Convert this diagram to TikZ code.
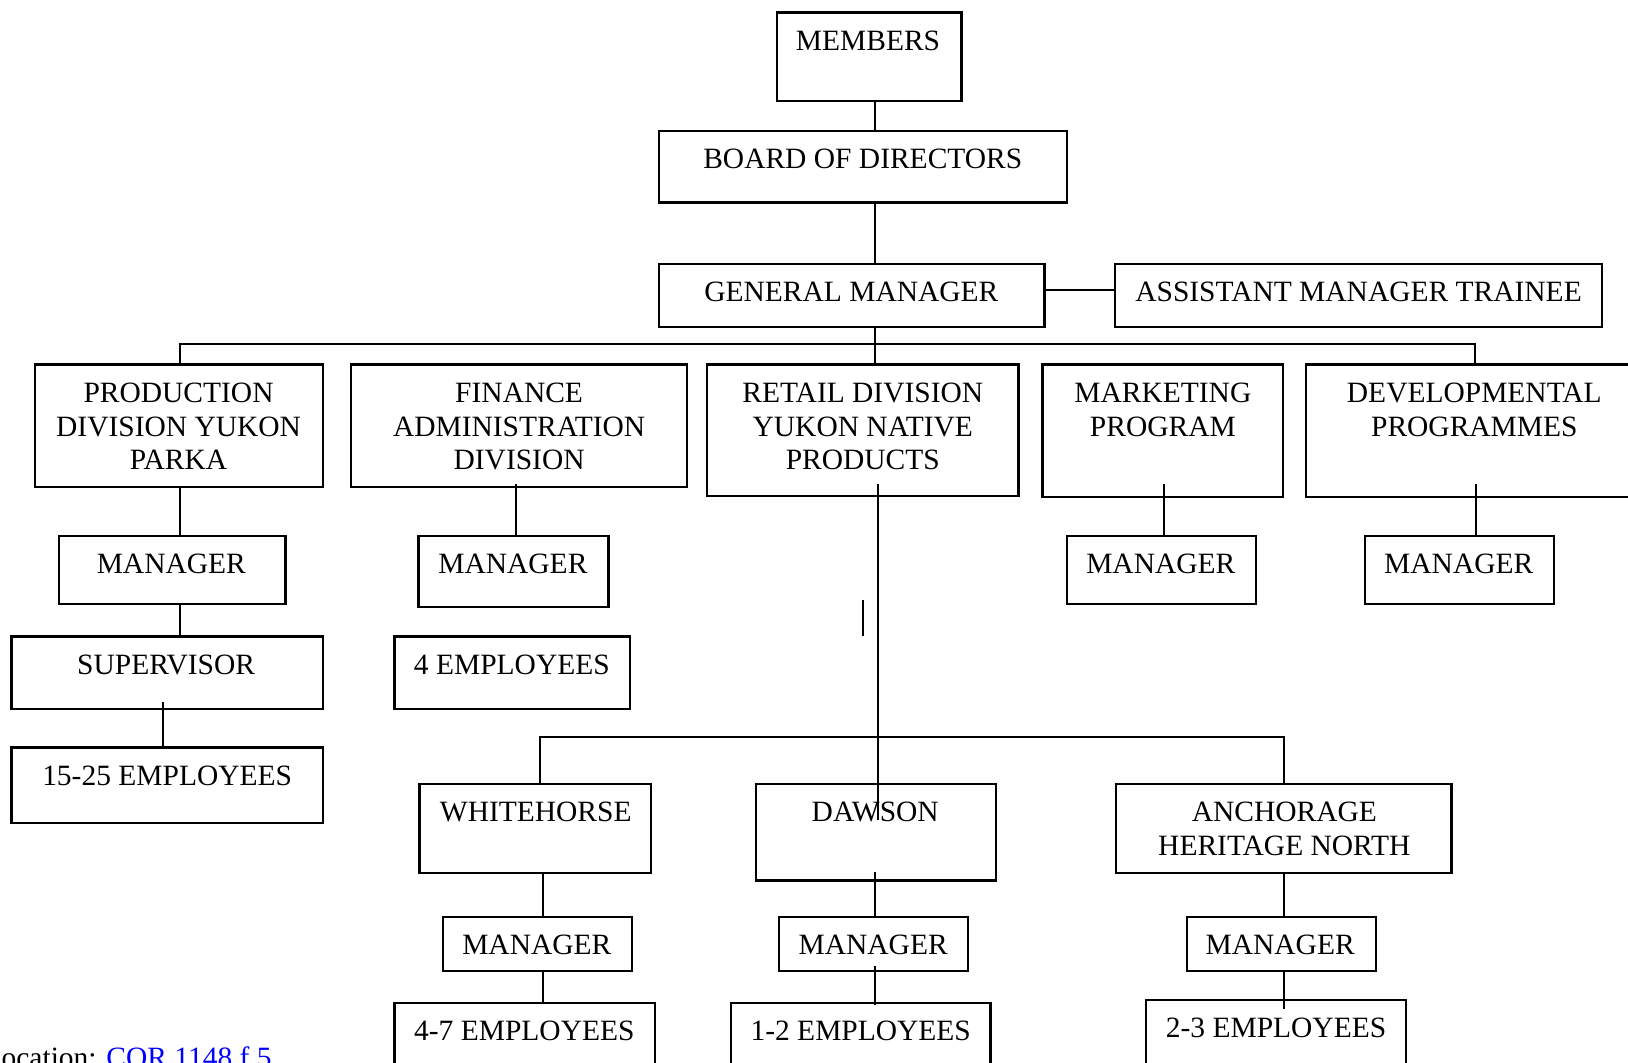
\documentclass[tikz,border=0pt]{standalone}
\usepackage{fontspec}
\setmainfont{Liberation Serif}
\usepackage{xcolor}
\tikzset{
  bx/.style={draw, line width=2.1pt, inner sep=0pt, outer sep=0pt},
  tx/.style={anchor=base, inner sep=0pt, font=\fontsize{28.4}{32.5}\selectfont},
  ln/.style={line width=1.9pt},
}
\newcommand\obox[5]{\node[bx, minimum width={(#4)-(#2)}, minimum height={(#5)-(#3)}] (#1) at ({((#2)+(#4))/2},{((#3)+(#5))/2}) {};}
\newcommand\otext[4]{\node[tx] (#1) at (#2,#3) {\begin{tabular}[t]{@{}c@{}}#4\end{tabular}};}
\begin{document}
\begin{tikzpicture}[x=1pt,y=-1pt]
\useasboundingbox (0,0) rectangle (1568,1023);
\clip (0,0) rectangle (1568,1023);
\fill[white] (0,0) rectangle (1568,1023);

% column / row coordinates
\foreach \xx in {157,173,497,520,523,843,846,1121,1237,1421,1422}{\coordinate (c\xx) at (\xx,0);}
\coordinate (r279) at (0,279);
\coordinate (bus) at (0,331);
\coordinate (bustwo) at (0,710);

% boxes
\obox{members}{748}{12}{926}{97}
\obox{board}{635}{126}{1028}{195}
\obox{gm}{635}{254}{1006}{315}
\obox{asst}{1074}{254}{1543}{315}
\obox{prod}{34}{351}{311}{469}
\obox{fin}{338}{351}{662}{469}
\obox{ret}{681}{351}{981}{478}
\obox{mkt}{1004}{351}{1236}{479}
\obox{dev}{1258}{351}{1590}{479}
\obox{pm}{57}{516}{275}{582}
\obox{sup}{11}{613}{311}{683}
\obox{empa}{11}{720}{311}{793}
\obox{fm}{403}{516}{586}{585}
\obox{empb}{380}{613}{607}{683}
\obox{mm}{1028}{516}{1210}{582}
\obox{dm}{1315}{516}{1497}{582}
\obox{wh}{404}{755}{627}{841}
\obox{daw}{728}{755}{959}{848}
\obox{anc}{1075}{755}{1398}{841}
\obox{whm}{427}{883}{609}{935}
\obox{dam}{750}{883}{932}{935}
\obox{anm}{1143}{883}{1325}{935}
\obox{whe}{380}{966}{631}{1045}
\obox{dae}{704}{966}{954}{1045}
\obox{ane}{1104}{963}{1354}{1045}

% texts
\otext{members-t}{836}{48.5}{MEMBERS}
\otext{board-t}{831}{162.5}{BOARD OF DIRECTORS}
\otext{gm-t}{820}{290.5}{GENERAL MANAGER}
\otext{asst-t}{1308.5}{290.5}{ASSISTANT MANAGER TRAINEE}
\otext{prod-t}{172}{387.5}{PRODUCTION\\DIVISION YUKON\\PARKA}
\otext{fin-t}{500}{387.5}{FINANCE\\ADMINISTRATION\\DIVISION}
\otext{ret-t}{831}{387.5}{RETAIL DIVISION\\YUKON NATIVE\\PRODUCTS}
\otext{mkt-t}{1120}{387.5}{MARKETING\\PROGRAM}
\otext{dev-t}{1420}{387.5}{DEVELOPMENTAL\\PROGRAMMES}
\otext{pm-t}{165}{552.5}{MANAGER}
\otext{fm-t}{494}{552.5}{MANAGER}
\otext{mm-t}{1118}{552.5}{MANAGER}
\otext{dm-t}{1405}{552.5}{MANAGER}
\otext{sup-t}{160}{649.5}{SUPERVISOR}
\otext{empb-t}{493}{649.5}{4 EMPLOYEES}
\otext{empa-t}{161}{756.5}{15-25 EMPLOYEES}
\otext{wh-t}{516}{791.5}{WHITEHORSE}
\otext{daw-t}{843}{791.5}{DAWSON}
\otext{anc-t}{1237}{791.5}{ANCHORAGE\\HERITAGE NORTH}
\otext{whm-t}{517}{919.5}{MANAGER}
\otext{dam-t}{841}{919.5}{MANAGER}
\otext{anm-t}{1233}{919.5}{MANAGER}
\otext{whe-t}{505}{1002.5}{4-7 EMPLOYEES}
\otext{dae-t}{829}{1002.5}{1-2 EMPLOYEES}
\otext{ane-t}{1229}{999.5}{2-3 EMPLOYEES}

\node[anchor=base west, inner sep=0pt, font=\fontsize{28.4}{32.5}\selectfont] (loc) at (-6.5,1028)
  {location: \textcolor{blue}{\underline{COR 1148 f 5}}};

% connectors
\draw[ln] (members.south -| c843) -- (board.north -| c843);
\draw[ln] (board.south -| c843) -- (gm.north -| c843);
\draw[ln] (gm.east |- r279) -- (asst.west |- r279);
\draw[ln] (gm.south -| c843) -- (ret.north -| c843);
\draw[ln] (prod.north -| c173) -- (c173 |- bus) -- (c1421 |- bus) -- (dev.north -| c1421);
\draw[ln] (prod.south -| c173) -- (pm.north -| c173);
\draw[ln] (pm.south -| c173) -- (sup.north -| c173);
\draw[ln] ([yshift=7pt]sup.south -| c157) -- (empa.north -| c157);
\draw[ln] ([yshift=3pt]fin.south -| c497) -- (fm.north -| c497);
\draw[ln] ([yshift=13pt]mkt.south -| c1121) -- (mm.north -| c1121);
\draw[ln] ([yshift=13pt]dev.south -| c1422) -- (dm.north -| c1422);
\draw[ln] ([yshift=12pt]ret.south -| c846) -- ([yshift=-35pt]daw.north -| c846);
\coordinate (ticka) at (831,578);
\coordinate (tickb) at (831,613);
\draw[ln] (ticka) -- (tickb);
\draw[ln] (wh.north -| c520) -- (c520 |- bustwo) -- (c1237 |- bustwo) -- (anc.north -| c1237);
\draw[ln] (wh.south -| c523) -- (whm.north -| c523);
\draw[ln] (whm.south -| c523) -- (whe.north -| c523);
\draw[ln] ([yshift=8pt]daw.south -| c843) -- (dam.north -| c843);
\draw[ln] ([yshift=5pt]dam.south -| c843) -- ([yshift=-2pt]dae.north -| c843);
\draw[ln] (anc.south -| c1237) -- (anm.north -| c1237);
\draw[ln] (anm.south -| c1237) -- ([yshift=-9pt]ane.north -| c1237);
\end{tikzpicture}
\end{document}
